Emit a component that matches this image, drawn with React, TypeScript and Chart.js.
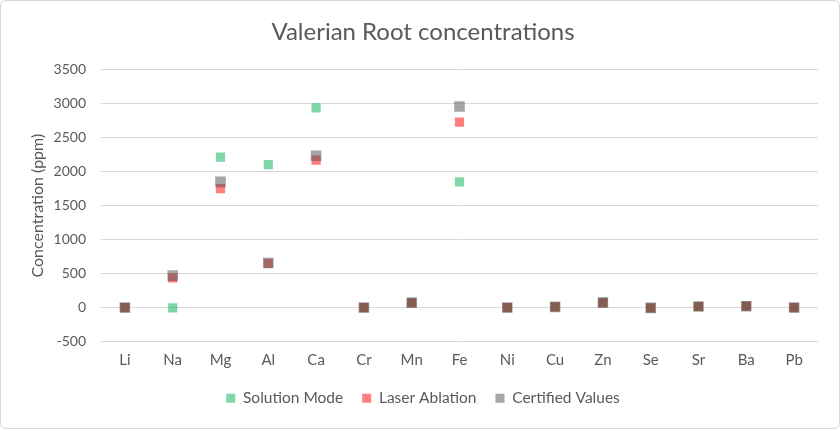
import React, { useEffect, useRef } from "react";
import { Chart, registerables } from "chart.js";

Chart.register(...registerables);

const elements = ["Li", "Na", "Mg", "Al", "Ca", "Cr", "Mn", "Fe", "Ni", "Cu", "Zn", "Se", "Sr", "Ba", "Pb"];
const solutionMode = [0, -5, 2215, 2105, 2940, 0, 78, 1850, 0, 10, 82, -5, 15, 20, 0];
const laserAblation = [0, 435, 1750, 650, 2170, 0, 70, 2730, 0, 10, 70, -5, 15, 20, 0];
const certifiedValues = [0, 470, 1850, 655, 2235, 0, 70, 2960, 0, 10, 70, -5, 15, 20, 0];
const yTicks = [-500, 0, 500, 1000, 1500, 2000, 2500, 3000, 3500];

const FONT = "Lato, 'Open Sans', sans-serif";
const TEXT = "#595959";

export default function App() {
  const ref = useRef<HTMLCanvasElement | null>(null);
  useEffect(() => {
    if (!ref.current) return;
    const chart = new Chart(ref.current, {
      type: "line",
      data: {
        labels: elements,
        datasets: [
          {
            label: "Solution Mode",
            data: solutionMode,
            showLine: false,
            backgroundColor: "rgba(0,176,80,0.5)",
            borderColor: "rgba(0,176,80,0.5)",
            borderWidth: 0,
            pointStyle: "rect",
            pointRadius: 6.5,
            pointBorderWidth: 0,
            order: 3,
          },
          {
            label: "Laser Ablation",
            data: laserAblation,
            showLine: false,
            backgroundColor: "rgba(255,0,0,0.5)",
            borderColor: "rgba(255,0,0,0.5)",
            borderWidth: 0,
            pointStyle: "rect",
            pointRadius: 6.5,
            pointBorderWidth: 0,
            order: 2,
          },
          {
            label: "Certified Values",
            data: certifiedValues,
            showLine: false,
            backgroundColor: "rgba(77,77,77,0.5)",
            borderColor: "rgba(77,77,77,0.5)",
            borderWidth: 0,
            pointStyle: "rect",
            pointRadius: 7.5,
            pointBorderWidth: 0,
            order: 1,
          },
        ],
      },
      options: {
        animation: false,
        responsive: false,
        maintainAspectRatio: false,
        layout: { padding: { left: 27, right: 21, top: 8, bottom: 12 } },
        plugins: {
          title: {
            display: true,
            text: "Valerian Root concentrations",
            color: TEXT,
            font: { family: FONT, size: 24, weight: "normal" },
            padding: { top: 9, bottom: 23 },
          },
          legend: {
            position: "bottom",
            labels: {
              color: TEXT,
              font: { family: FONT, size: 15.5 },
              boxWidth: 9,
              boxHeight: 9,
              padding: 19,
              sort: (a: any, b: any) => a.datasetIndex - b.datasetIndex,
            },
          },
          tooltip: { enabled: false },
        },
        scales: {
          x: {
            offset: true,
            grid: { display: false },
            border: { display: false },
            ticks: { color: TEXT, font: { family: FONT, size: 15 }, padding: 2 },
          },
          y: {
            min: -500,
            max: 3500,
            afterBuildTicks: (axis: any) => {
              axis.ticks = yTicks.map((v) => ({ value: v }));
            },
            afterFit: (axis: any) => {
              axis.width = 73;
            },
            grid: { color: "#d9d9d9", lineWidth: 1, drawTicks: false },
            border: { display: false },
            ticks: {
              color: TEXT,
              font: { family: FONT, size: 14 },
              padding: 15,
              callback: (v: any) => String(v),
            },
            title: {
              display: true,
              text: "Concentration (ppm)",
              color: TEXT,
              font: { family: FONT, size: 16 },
              padding: { top: 0, bottom: 0 },
            },
          },
        },
      },
    });
    return () => chart.destroy();
  }, []);
  return (
    <div
      style={{
        position: "fixed",
        left: 0,
        top: 0,
        width: 840,
        height: 429,
        boxSizing: "border-box",
        border: "1px solid #d9d9d9",
        borderRadius: 6,
        background: "#fff",
        overflow: "hidden",
      }}
    >
      <canvas ref={ref} width={838} height={427} style={{ display: "block" }} />
    </div>
  );
}
